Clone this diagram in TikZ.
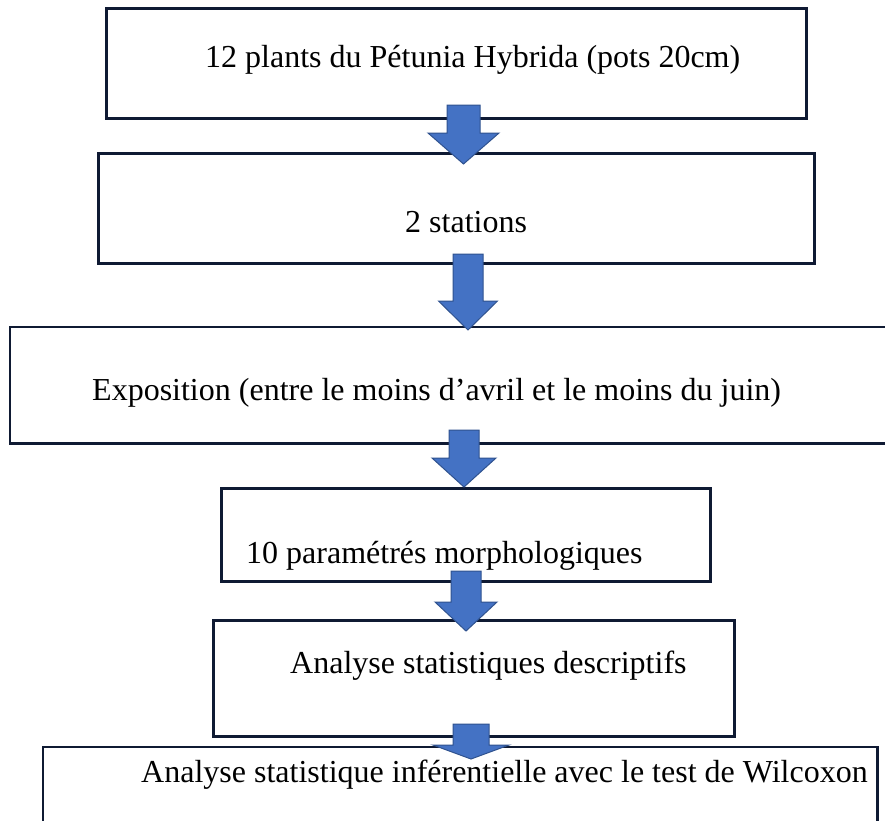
\documentclass[tikz,border=0pt]{standalone}
\usepackage{fontspec}
\setmainfont{Liberation Serif}
\definecolor{boxline}{HTML}{0F1A33}
\definecolor{arrowfill}{HTML}{4472C4}
\definecolor{arrowline}{HTML}{2F528F}
\newcommand\blockarr[6]{%
  \draw[blockarrow] (#1-#2,#4) -- (#1+#2,#4) -- (#1+#2,#5) -- (#1+#3,#5) -- (#1,#6) -- (#1-#3,#5) -- (#1-#2,#5) -- cycle;}
\begin{document}
\begin{tikzpicture}[x=1pt,y=-1pt,
  box/.style={draw=boxline, line width=2.5pt, fill=white, inner sep=0pt, anchor=north west},
  openbox/.style={inner sep=0pt, anchor=north west},
  edge/.style={draw=boxline, line width=2.5pt},
  lbl/.style={anchor=base west, inner sep=0pt, font=\fontsize{32}{38}\selectfont},
  blockarrow/.style={fill=arrowfill, draw=arrowline, line width=1pt, line join=miter}]
\useasboundingbox (0,0) rectangle (885,820);
\fill[white] (0,0) rectangle (885,820);

% boxes
\node[box, minimum width=700pt, minimum height=110pt] (b1) at (105,7) {};
\node[box, minimum width=716pt, minimum height=110pt] (b2) at (97,152) {};
\node[openbox, minimum width=876pt, minimum height=116pt] (b3) at (10,327) {};
\draw[edge] (b3.north east) -- (b3.north west) -- (b3.south west) -- (b3.south east);
\node[box, minimum width=489pt, minimum height=93pt] (b4) at (220,487) {};
\node[box, minimum width=521pt, minimum height=116pt] (b5) at (212,619) {};
\node[openbox, minimum width=834pt, minimum height=80pt] (b6) at (43,747) {};
\draw[edge] (b6.south west) -- (b6.north west) -- (b6.north east) -- (b6.south east);

% texts
\node[lbl] (t1) at (205,67) {12 plants du Pétunia Hybrida (pots 20cm)};
\node[lbl] (t2) at (405,232) {2 stations};
\node[lbl] (t3) at (92,400) {Exposition (entre le moins d’avril et le moins du juin)};
\node[lbl] (t4) at (246,563) {10 paramétrés morphologiques};
\node[lbl] (t5) at (290,673) {Analyse statistiques descriptifs};
\node[lbl] (t6) at (141,782) {Analyse statistique inférentielle avec le test de Wilcoxon};

% block arrows
\blockarr{463.5}{16.5}{35.5}{105}{133}{164}
\blockarr{468}{15}{29.5}{254}{301}{330}
\blockarr{464}{15}{32}{430}{458}{487}
\blockarr{466}{15}{31}{571}{602}{631}
\blockarr{471}{18}{38}{724}{745}{759}
\end{tikzpicture}
\end{document}
